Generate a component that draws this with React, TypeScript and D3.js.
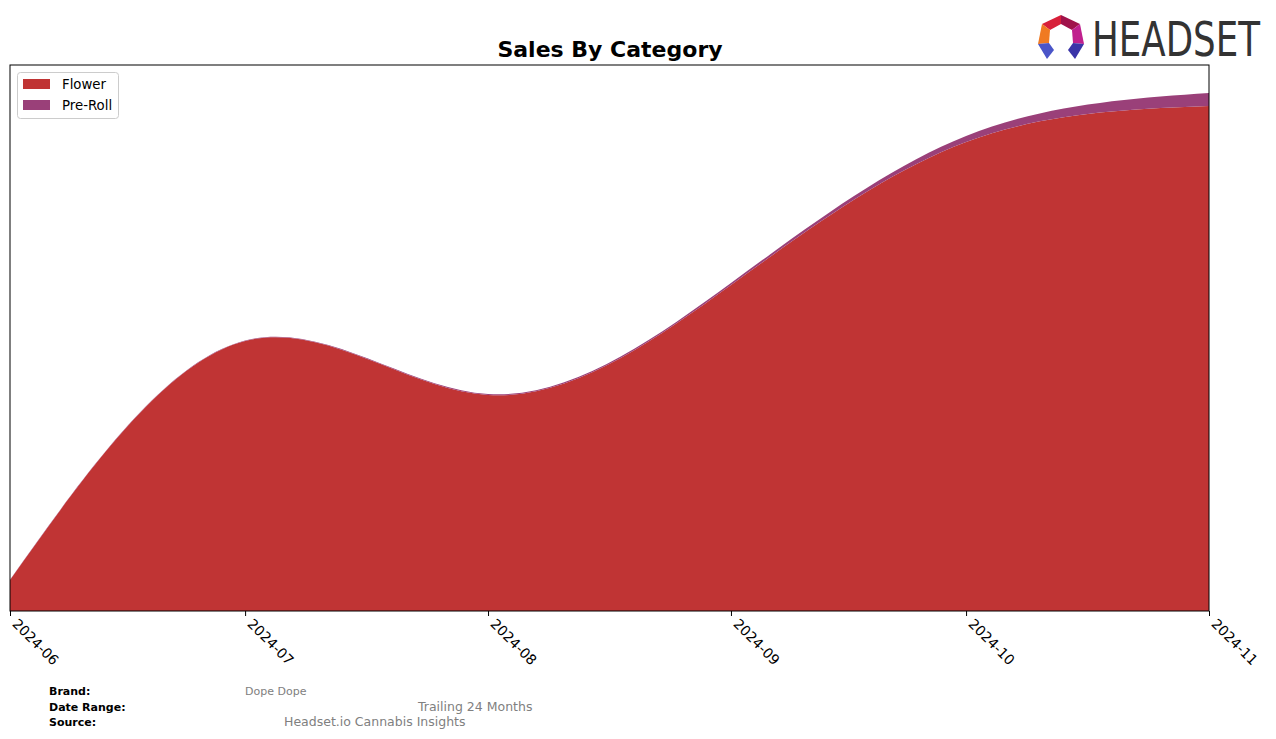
import React, { useRef, useEffect } from "react";
import * as d3 from "d3";

// monthly sales
const months = ["2024-06", "2024-07", "2024-08", "2024-09", "2024-10", "2024-11"];
const flower = [3100, 27000, 21600, 32600, 46900, 50500];
const preRoll = [30, 50, 100, 200, 600, 1300];
const categories = ["Flower", "Pre-Roll"];
const colors = ["#c03434", "#9a4079"];

const footerLabels = ["Brand:", "Date Range:", "Source:"];
const footerValues = ["Dope Dope", "Trailing 24 Months", "Headset.io Cannabis Insights"];

function App() {
  const ref = useRef<SVGSVGElement | null>(null);

  useEffect(() => {
    const W = 1276, H = 739;
    const margin = { top: 65, right: 67, bottom: 128, left: 10 };
    const svg = d3.select(ref.current);
    svg.selectAll("*").remove();

    const parse = d3.timeParse("%Y-%m");
    const table = months.map((m, i) => ({ date: parse(m) as Date, Flower: flower[i], "Pre-Roll": preRoll[i] }));

    const x = d3
      .scaleTime()
      .domain([table[0].date, table[table.length - 1].date])
      .range([margin.left, W - margin.right]);
    const y = d3.scaleLinear().domain([0, 54600]).range([H - margin.bottom, margin.top]);

    const series = d3.stack<any>().keys(categories)(table);

    const area = d3
      .area<any>()
      .curve(d3.curveNatural)
      .x((d) => x(d.data.date))
      .y0((d) => y(d[0]))
      .y1((d) => y(d[1]));

    svg
      .append("text")
      .attr("x", 610)
      .attr("y", 57)
      .attr("text-anchor", "middle")
      .style("font-family", "DejaVu Sans")
      .style("font-weight", "bold")
      .style("font-size", "22px")
      .text("Sales By Category");

    svg
      .append("g")
      .selectAll("path.layer")
      .data(series)
      .join("path")
      .attr("class", "layer")
      .attr("fill", (d, i) => colors[i])
      .attr("d", area as any);

    // frame
    svg
      .append("rect")
      .attr("x", margin.left)
      .attr("y", margin.top)
      .attr("width", W - margin.right - margin.left)
      .attr("height", H - margin.bottom - margin.top)
      .attr("fill", "none")
      .attr("stroke", "black")
      .attr("stroke-width", 1);

    // x axis
    const xAxis = svg
      .append("g")
      .attr("transform", "translate(0," + (H - margin.bottom) + ")")
      .call(
        d3
          .axisBottom(x)
          .tickValues(table.map((d) => d.date))
          .tickFormat(d3.timeFormat("%Y-%m") as any)
          .tickSize(5)
          .tickSizeOuter(0)
      );
    xAxis.select(".domain").remove();
    xAxis
      .selectAll("text")
      .style("font-family", "DejaVu Sans")
      .style("font-size", "14px")
      .attr("text-anchor", "start")
      .attr("dy", "0.35em")
      .attr("transform", "translate(3,6) rotate(45)")
      .attr("x", 4)
      .attr("y", 2);

    // legend
    const legend = svg.append("g");
    legend
      .append("rect")
      .attr("x", 17.5)
      .attr("y", 72.5)
      .attr("width", 101)
      .attr("height", 46)
      .attr("rx", 3)
      .attr("fill", "white")
      .attr("fill-opacity", 0.8)
      .attr("stroke", "#cccccc");
    categories.forEach((c, i) => {
      legend
        .append("rect")
        .attr("x", 23)
        .attr("y", 79 + i * 21)
        .attr("width", 27)
        .attr("height", 10)
        .attr("fill", colors[i]);
      legend
        .append("text")
        .attr("x", 62)
        .attr("y", 89 + i * 21)
        .style("font-family", "DejaVu Sans")
        .style("font-size", "13.3px")
        .text(c);
    });

    // footer
    const footerX = [245, 418, 284];
    footerLabels.forEach((l, i) => {
      svg
        .append("text")
        .attr("x", 49)
        .attr("y", 695 + i * 15.5)
        .style("font-family", "DejaVu Sans")
        .style("font-weight", "bold")
        .style("font-size", "11px")
        .text(l);
      svg
        .append("text")
        .attr("x", footerX[i])
        .attr("y", 695 + i * 15.5)
        .attr("fill", "#808080")
        .style("font-family", "DejaVu Sans")
        .style("font-size", i === 0 ? "11px" : "12.5px")
        .text(footerValues[i]);
    });

    // logo
    const logo = svg.append("g");
    const pieces: [string, number[][]][] = [
      ["#d8203a", [[1042, 24], [1061, 15], [1061, 24], [1050, 30]]],
      ["#a0124a", [[1061, 15], [1080, 24], [1072, 30], [1061, 24]]],
      ["#f07a22", [[1042, 24], [1050, 30], [1049, 43], [1038, 44]]],
      ["#c0208e", [[1080, 24], [1084, 44], [1073, 43], [1072, 30]]],
      ["#4a55c8", [[1038, 44], [1049, 43], [1054, 50], [1047, 59]]],
      ["#3a34a8", [[1084, 44], [1073, 43], [1068, 50], [1075, 59]]],
    ];
    pieces.forEach(([col, pts]) => {
      logo
        .append("polygon")
        .attr("points", pts.map((p) => p.join(",")).join(" "))
        .attr("fill", col);
    });
    const word = logo
      .append("text")
      .attr("x", 0)
      .attr("y", 0)
      .attr("fill", "#333333")
      .style("font-family", "DejaVu Sans Condensed, DejaVu Sans")
      .style("font-size", "48px")
      .text("HEADSET");
    const natural = (word.node() as SVGTextElement).getComputedTextLength() || 200;
    word.attr("transform", "translate(1092,56) scale(" + 168 / natural + ",1)");
  }, []);

  return (
    <svg
      ref={ref}
      width={1276}
      height={739}
      style={{ position: "absolute", left: 0, top: 0, background: "white" }}
    ></svg>
  );
}

export default App;
